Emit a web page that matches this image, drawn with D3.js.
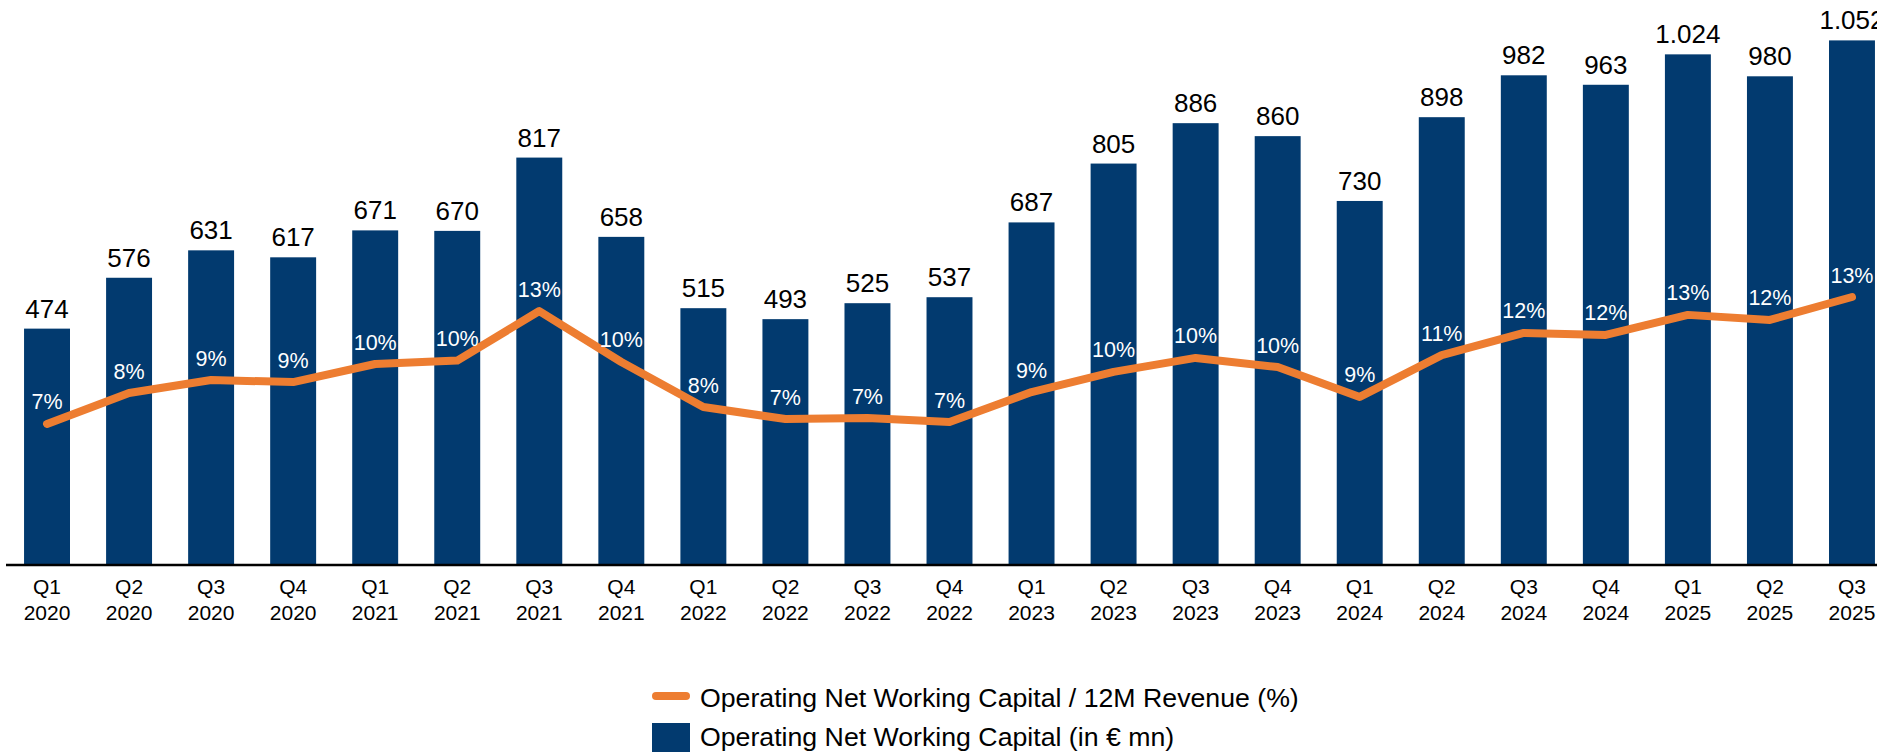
<!DOCTYPE html>
<html>
<head>
<meta charset="utf-8">
<script src="https://cdn.jsdelivr.net/npm/d3@7"></script>
<style>
  html, body { margin: 0; padding: 0; background: #fff; }
  svg { display: block; }
  text { font-family: Arial, "Liberation Sans", sans-serif; }
</style>
</head>
<body>
<svg id="chart" width="1877" height="752"></svg>
<script>
const quarters = ["Q1","Q2","Q3","Q4","Q1","Q2","Q3","Q4","Q1","Q2","Q3","Q4","Q1","Q2","Q3","Q4","Q1","Q2","Q3","Q4","Q1","Q2","Q3"];
const years = ["2020","2020","2020","2020","2021","2021","2021","2021","2022","2022","2022","2022","2023","2023","2023","2023","2024","2024","2024","2024","2025","2025","2025"];
const nwc = [474, 576, 631, 617, 671, 670, 817, 658, 515, 493, 525, 537, 687, 805, 886, 860, 730, 898, 982, 963, 1024, 980, 1052];
const ratio = [6.95, 8.47, 9.11, 9.01, 9.90, 10.07, 12.51, 10.0, 7.78, 7.19, 7.24, 7.04, 8.52, 9.51, 10.20, 9.75, 8.28, 10.34, 11.43, 11.33, 12.32, 12.07, 13.20];
const ratioLabels = ["7%","8%","9%","9%","10%","10%","13%","10%","8%","7%","7%","7%","9%","10%","10%","10%","9%","11%","12%","12%","13%","12%","13%"];
const legendLabels = ["Operating Net Working Capital / 12M Revenue (%)", "Operating Net Working Capital (in € mn)"];

const barColor = "#023a6f";
const lineColor = "#ed7d31";

const svg = d3.select("#chart");
const cats = quarters.map((q, i) => i);
const baseY = 565;

const x = d3.scaleBand().domain(cats).range([6, 1893]).paddingInner(0.44).paddingOuter(0.22);
const y = d3.scaleLinear().domain([0, 1133]).range([baseY, 0]);
const y2 = d3.scaleLinear().domain([0, 27.83]).range([baseY, 0]);

const fmt = d3.formatLocale({decimal: ",", thousands: ".", grouping: [3], currency: ["", "€"]}).format(",");

// bars
svg.append("g").selectAll("rect").data(nwc).join("rect")
  .attr("x", (d, i) => x(i))
  .attr("width", x.bandwidth())
  .attr("y", d => y(d))
  .attr("height", d => baseY - y(d))
  .attr("fill", barColor);

// bar value labels
svg.append("g").selectAll("text").data(nwc).join("text")
  .attr("x", (d, i) => x(i) + x.bandwidth() / 2)
  .attr("y", d => y(d) - 11)
  .attr("text-anchor", "middle")
  .attr("font-size", 26)
  .attr("fill", "#000")
  .text(d => fmt(d));

// axis
const xAxis = d3.axisBottom(x).tickSize(0).tickFormat(() => "");
const axisG = svg.append("g").attr("transform", `translate(0,${baseY})`).call(xAxis);
axisG.select(".domain").remove();
svg.append("line").attr("x1", 6).attr("x2", 1877).attr("y1", baseY).attr("y2", baseY)
  .attr("stroke", "#000").attr("stroke-width", 2.5);
axisG.selectAll(".tick").each(function(d, i) {
  const t = d3.select(this).select("text");
  t.text(null).attr("y", 0).attr("dy", null)
    .attr("font-size", 21).attr("fill", "#000").attr("font-family", "Arial, 'Liberation Sans', sans-serif");
  t.append("tspan").attr("x", 0).attr("y", 29).text(quarters[i]);
  t.append("tspan").attr("x", 0).attr("y", 55).text(years[i]);
});

// line
const line = d3.line()
  .x((d, i) => x(i) + x.bandwidth() / 2)
  .y(d => y2(d));
svg.append("path").datum(ratio)
  .attr("d", line)
  .attr("fill", "none")
  .attr("stroke", lineColor)
  .attr("stroke-width", 8)
  .attr("stroke-linejoin", "round")
  .attr("stroke-linecap", "round");

// ratio labels
svg.append("g").selectAll("text").data(ratio).join("text")
  .attr("x", (d, i) => x(i) + x.bandwidth() / 2)
  .attr("y", d => y2(d) - 14.5)
  .attr("text-anchor", "middle")
  .attr("font-size", 21.5)
  .attr("fill", "#fff")
  .text((d, i) => ratioLabels[i]);

// legend
const lg = svg.append("g");
lg.append("line").attr("x1", 656).attr("x2", 686).attr("y1", 696).attr("y2", 696)
  .attr("stroke", lineColor).attr("stroke-width", 8).attr("stroke-linecap", "round");
lg.append("text").attr("x", 700).attr("y", 706.5).attr("font-size", 26.7).attr("fill", "#000").text(legendLabels[0]);
lg.append("rect").attr("x", 652).attr("y", 723).attr("width", 38).attr("height", 38).attr("fill", barColor);
lg.append("text").attr("x", 700).attr("y", 746).attr("font-size", 26.7).attr("fill", "#000").text(legendLabels[1]);
</script>
</body>
</html>
